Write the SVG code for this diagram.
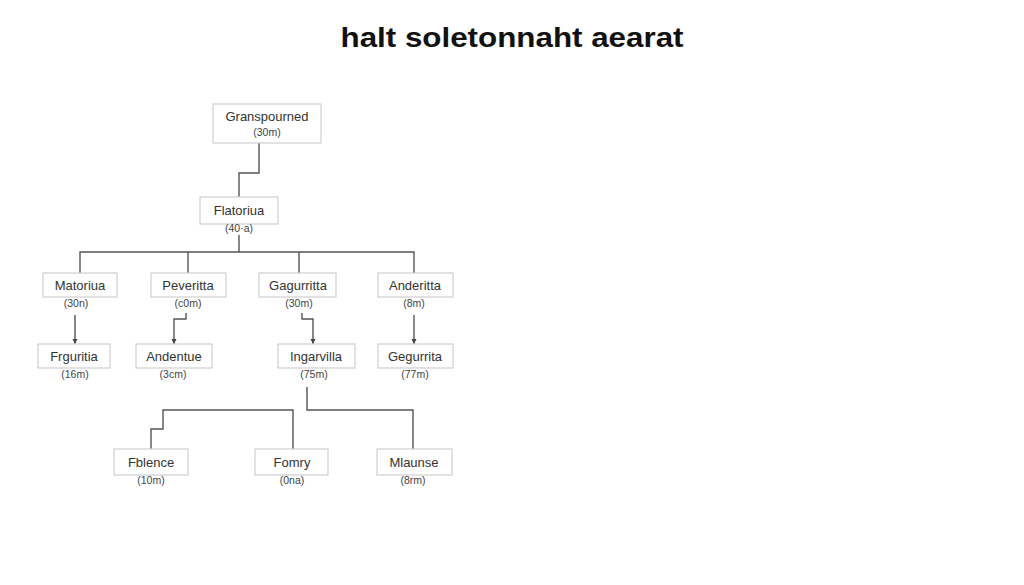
<svg xmlns="http://www.w3.org/2000/svg" width="1024" height="585" viewBox="0 0 1024 585">
<defs>
<style>
.box{fill:#fff;stroke:#cfcfcf;stroke-width:1.2}
.nm{font-family:"Liberation Sans",Arial,sans-serif;font-size:13px;fill:#333;text-anchor:middle}
.sb{font-family:"Liberation Sans",Arial,sans-serif;font-size:10.5px;fill:#444;text-anchor:middle}
.ln{fill:none;stroke:#555;stroke-width:1.4}
.title{font-family:"Liberation Sans",Arial,sans-serif;font-size:28px;font-weight:bold;fill:#111;text-anchor:middle}
</style>
<marker id="ar" viewBox="0 0 10 10" refX="10" refY="5" markerWidth="5" markerHeight="6" orient="auto" markerUnits="userSpaceOnUse">
<path d="M0,0 L10,5 L0,10 z" fill="#444"/>
</marker>
</defs>
<rect width="1024" height="585" fill="#fff"/>
<text class="title" x="512" y="47" textLength="343" lengthAdjust="spacingAndGlyphs">halt soletonnaht aearat</text>

<g id="connectors">
<path class="ln" d="M259,143 V173 H239 V197"/>
<path class="ln" d="M239,235 V252"/>
<path class="ln" d="M80,273 V252 H414 V273"/>
<path class="ln" d="M188,252 V273"/>
<path class="ln" d="M299,252 V273"/>
<path class="ln" d="M75,315 V344" marker-end="url(#ar)"/>
<path class="ln" d="M186,313 V319 H174 V344" marker-end="url(#ar)"/>
<path class="ln" d="M302,313 V319 H313 V344" marker-end="url(#ar)"/>
<path class="ln" d="M414,315 V344" marker-end="url(#ar)"/>
<path class="ln" d="M307,387 V410 H413 V449"/>
<path class="ln" d="M151,449 V429 H163 V410 H293 V449"/>
</g>

<g id="n-granspourned"><rect class="box" x="213" y="104" width="108" height="39"/><text class="nm" x="267" y="121">Granspourned</text><text class="sb" x="267" y="136">(30m)</text></g>
<g id="n-flatoriua"><rect class="box" x="200" y="197" width="78" height="27"/><text class="nm" x="239" y="215">Flatoriua</text><text class="sb" x="239" y="232">(40·a)</text></g>

<g id="n-matoriua"><rect class="box" x="43" y="273" width="74" height="24"/><text class="nm" x="80" y="290">Matoriua</text><text class="sb" x="76" y="307">(30n)</text></g>
<g id="n-peveritta"><rect class="box" x="151" y="273" width="75" height="24"/><text class="nm" x="188" y="290">Peveritta</text><text class="sb" x="188" y="307">(c0m)</text></g>
<g id="n-gagurritta"><rect class="box" x="259" y="273" width="77" height="24"/><text class="nm" x="298" y="290">Gagurritta</text><text class="sb" x="299" y="307">(30m)</text></g>
<g id="n-anderitta"><rect class="box" x="378" y="273" width="75" height="24"/><text class="nm" x="415" y="290">Anderitta</text><text class="sb" x="414" y="307">(8m)</text></g>

<g id="n-frguritia"><rect class="box" x="38" y="344" width="72" height="24"/><text class="nm" x="74" y="361">Frguritia</text><text class="sb" x="75" y="378">(16m)</text></g>
<g id="n-andentue"><rect class="box" x="136" y="344" width="76" height="24"/><text class="nm" x="174" y="361">Andentue</text><text class="sb" x="173" y="378">(3cm)</text></g>
<g id="n-ingarvilla"><rect class="box" x="278" y="344" width="77" height="24"/><text class="nm" x="316" y="361">Ingarvilla</text><text class="sb" x="314" y="378">(75m)</text></g>
<g id="n-gegurrita"><rect class="box" x="378" y="344" width="75" height="24"/><text class="nm" x="415" y="361">Gegurrita</text><text class="sb" x="415" y="378">(77m)</text></g>

<g id="n-fblence"><rect class="box" x="114" y="449" width="74" height="26"/><text class="nm" x="151" y="467">Fblence</text><text class="sb" x="151" y="484">(10m)</text></g>
<g id="n-fomry"><rect class="box" x="255" y="449" width="73" height="26"/><text class="nm" x="292" y="467">Fomry</text><text class="sb" x="292" y="484">(0na)</text></g>
<g id="n-mlaunse"><rect class="box" x="377" y="449" width="75" height="26"/><text class="nm" x="414" y="467">Mlaunse</text><text class="sb" x="413" y="484">(8rm)</text></g>
</svg>
